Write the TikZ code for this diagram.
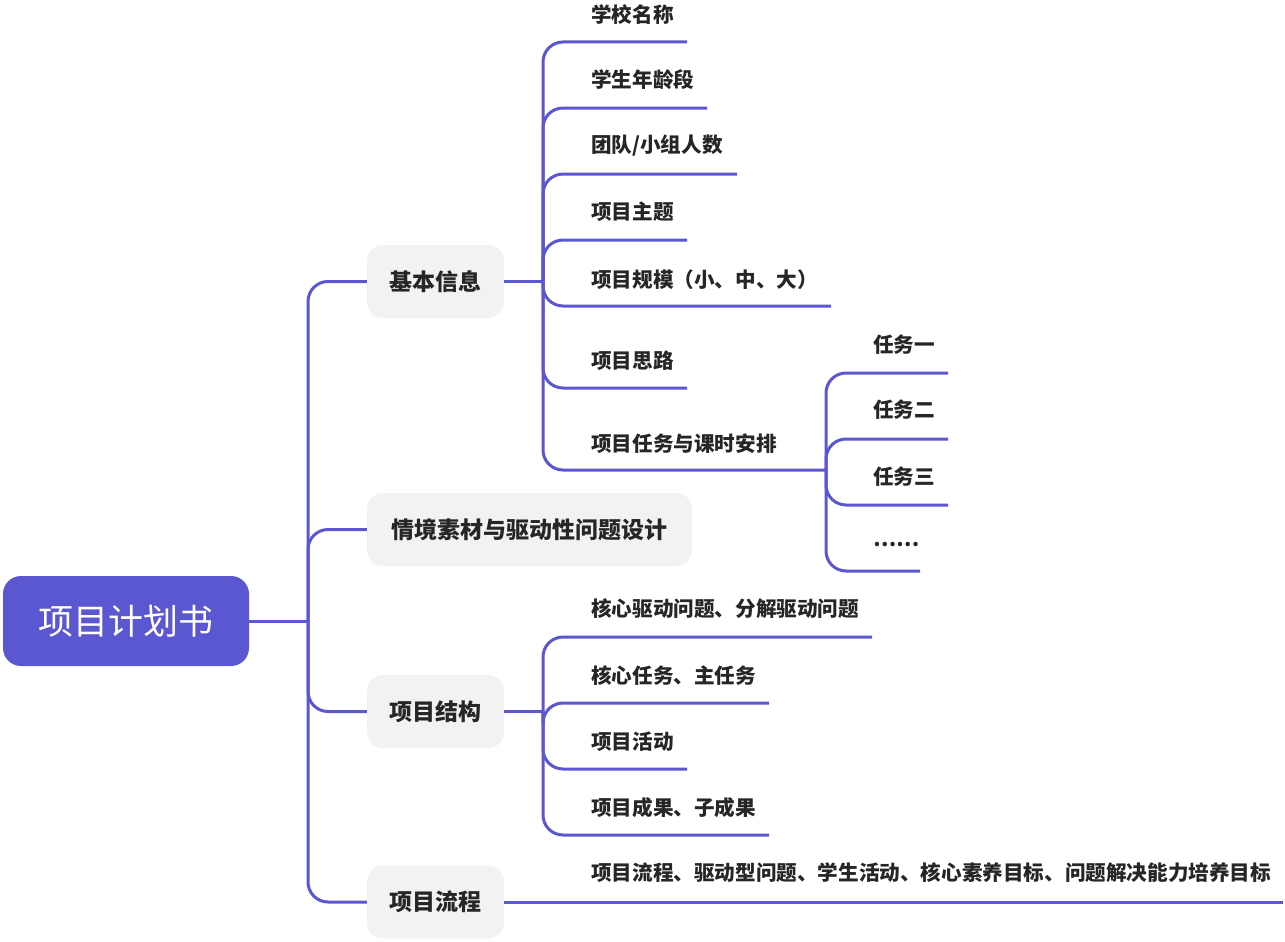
\documentclass[tikz,border=0pt]{standalone}
\usepackage{fontspec}
\setmainfont{Noto Sans CJK SC}
\definecolor{mainpurple}{HTML}{5B57D0}
\definecolor{boxgrey}{HTML}{F2F2F2}
\definecolor{txt}{HTML}{262626}
\tikzset{
  conn/.style={draw=mainpurple, line width=3pt, rounded corners=20pt},
  rootbox/.style={fill=mainpurple, rounded corners=18pt, text=white, minimum width=246pt, minimum height=90pt, font=\fontsize{35}{40}\selectfont, inner sep=0pt},
  topicbox/.style={fill=boxgrey, rounded corners=16pt, text=txt, minimum height=73pt, inner xsep=22pt, inner ysep=0pt, font=\bfseries\fontsize{23}{27}\selectfont},
  leaf/.style={anchor=west, inner sep=0pt, text=txt, font=\bfseries\fontsize{20.6}{24}\selectfont},
}
\begin{document}
\begin{tikzpicture}[x=1pt, y=-1pt]
\useasboundingbox (0,0) rectangle (1285,942);
% root
\node[rootbox] (root) at (126,621) {项目计划书};
\coordinate (j0) at (308,621);
% level 1
\node[topicbox, minimum width=137pt] (b1) at (435.5,281.5) {基本信息};
\node[topicbox, minimum width=325pt] (b2) at (529.5,529.5) {情境素材与驱动性问题设计};
\node[topicbox, minimum width=137pt] (b3) at (435.5,711.5) {项目结构};
\node[topicbox, minimum width=137pt] (b4) at (435.5,902) {项目流程};
\draw[conn] (root.east) -- (j0);
\draw[conn] (j0) |- (b1.west);
\draw[conn] (j0) |- (b2.west);
\draw[conn] (j0) |- (b3.west);
\draw[conn] (j0) |- (b4.west);
% basic info children
\coordinate (j1) at (543,281.5);
\draw[conn] (b1.east) -- (j1);
\node[leaf] (c1) at (591,15) {学校名称};
\node[leaf] (c2) at (591,80) {学生年龄段};
\node[leaf] (c3) at (591,146) {团队/小组人数};
\node[leaf] (c4) at (591,212) {项目主题};
\node[leaf] (c5) at (591,280) {项目规模（小、中、大）};
\node[leaf] (c6) at (591,361) {项目思路};
\node[leaf] (c7) at (591,444) {项目任务与课时安排};
\coordinate (c1e) at (687,42);
\coordinate (c2e) at (707,108);
\coordinate (c3e) at (737,174);
\coordinate (c4e) at (687,240);
\coordinate (c5e) at (831,306);
\coordinate (c6e) at (687,388);
\coordinate (j2) at (826,470);
\foreach \e in {c1e,c2e,c3e,c4e,c5e,c6e,j2} \draw[conn] (j1) |- (\e);
% task children
\node[leaf] (d1) at (873,345) {任务一};
\node[leaf] (d2) at (873,410) {任务二};
\node[leaf] (d3) at (873,477) {任务三};
\node[leaf] (d4) at (873,545) {……};
\coordinate (d1e) at (948,373);
\coordinate (d2e) at (948,439);
\coordinate (d3e) at (948,505);
\coordinate (d4e) at (920,571);
\foreach \e in {d1e,d2e,d3e,d4e} \draw[conn] (j2) |- (\e);
% structure children
\coordinate (j3) at (543,711.5);
\draw[conn] (b3.east) -- (j3);
\node[leaf] (s1) at (591,609) {核心驱动问题、分解驱动问题};
\node[leaf] (s2) at (591,676) {核心任务、主任务};
\node[leaf] (s3) at (591,742) {项目活动};
\node[leaf] (s4) at (591,808) {项目成果、子成果};
\coordinate (s1e) at (872,637);
\coordinate (s2e) at (769,703);
\coordinate (s3e) at (687,769);
\coordinate (s4e) at (769,835);
\foreach \e in {s1e,s2e,s3e,s4e} \draw[conn] (j3) |- (\e);
% flow
\node[leaf] (f1) at (591,873) {项目流程、驱动型问题、学生活动、核心素养目标、问题解决能力培养目标};
\coordinate (f1e) at (1283,902);
\draw[conn] (b4.east) -- (f1e);
\end{tikzpicture}
\end{document}
